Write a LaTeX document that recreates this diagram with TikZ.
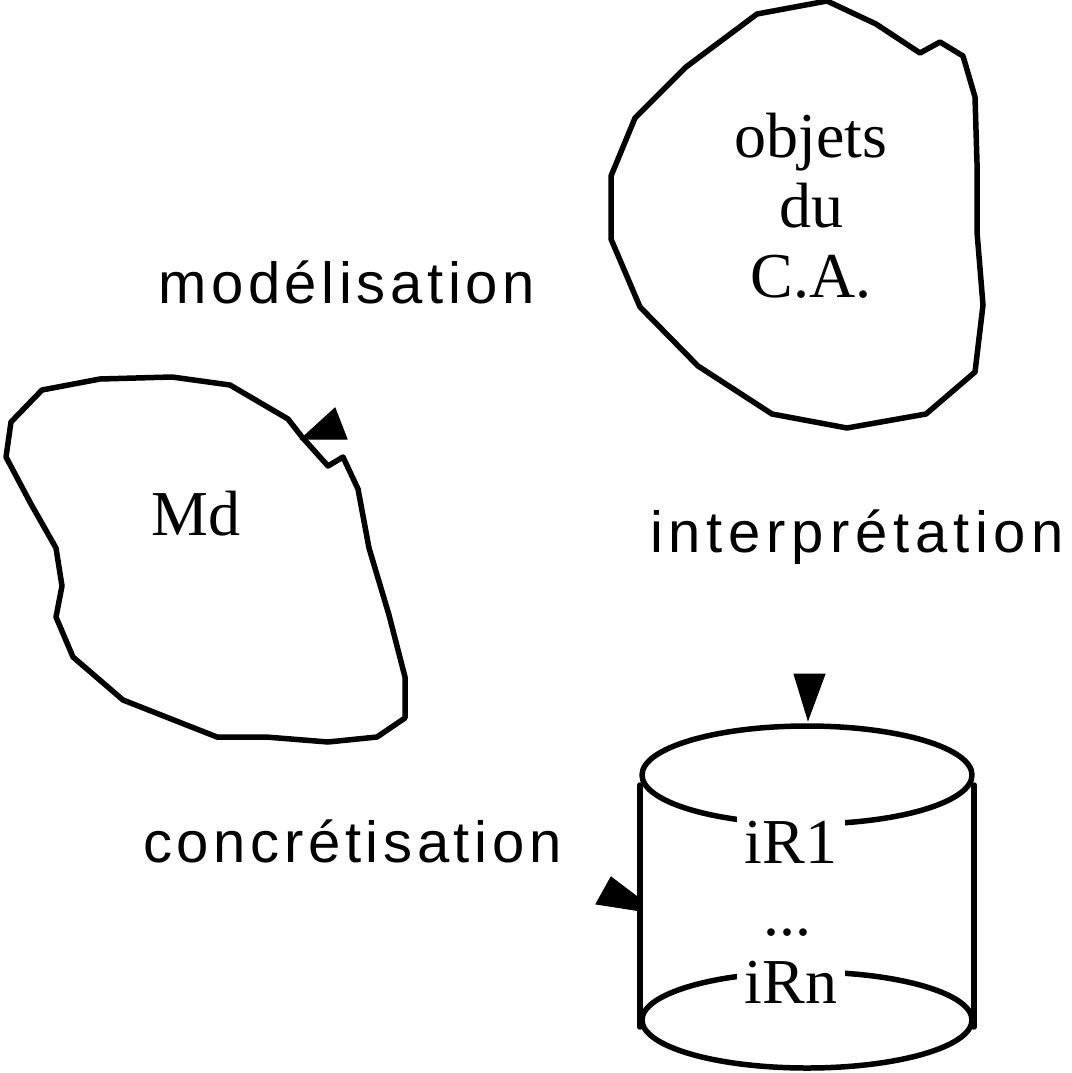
\documentclass[tikz,border=0pt]{standalone}
\usepackage{fontspec}
\setmainfont{Liberation Serif}
\newfontfamily\lblfont[LetterSpace=8]{Liberation Sans}
\newfontfamily\widelblfont[LetterSpace=10]{Liberation Sans}
\begin{document}
\begin{tikzpicture}[x=1pt,y=-1pt,
  outline/.style={line width=5.5pt,line join=round,line cap=round},
  head/.style={fill=black,draw=black,line width=1pt,line join=miter},
  serif/.style={font=\fontsize{64}{70}\selectfont,inner sep=0pt,align=center},
  boxed/.style={serif,fill=white,inner xsep=8pt,inner ysep=9pt},
  arrowlabel/.style={font=\lblfont\fontsize{58}{60}\selectfont,inner sep=0pt,anchor=base west}]
\useasboundingbox (0,0) rectangle (1071,1073);

% domain of the objects
\draw[outline] (757,14) -- (827,1) -- (876,24) -- (920,53) -- (940,42) -- (963,56)
  -- (975,97) -- (977,163) -- (977,232) -- (983,305) -- (975,372) -- (926,414)
  -- (847,428) -- (772,414) -- (698,366) -- (640,307) -- (611,239) -- (611,176)
  -- (635,118) -- (686,67) -- cycle;
\node[serif,anchor=base] (obj) at (811,297) {objets\\du\\C.A.};

% model
\draw[outline] (42,390) -- (100,379) -- (172,377) -- (230,385) -- (288,419)
  -- (302,437) -- (328,466) -- (343,457) -- (358,489) -- (369,548) -- (389,615)
  -- (405,677) -- (405,718) -- (377,737) -- (328,742) -- (266,737) -- (217,737)
  -- (123,700) -- (73,657) -- (56,617) -- (62,586) -- (56,548) -- (31,504)
  -- (6,457) -- (11,422) -- cycle;
\node[serif,anchor=base] (md) at (196,535) {Md};

% repository of instances
\draw[outline] (640,785) -- (640,1027);
\draw[outline] (974,785) -- (974,1027);
\draw[outline] (807,1020) ellipse [x radius=165, y radius=48];
\draw[outline] (807,775) ellipse [x radius=165, y radius=49];
\node[boxed,anchor=base] (ir1) at (791,863) {iR1};
\node[serif,anchor=base] (dots) at (787,935) {...};
\node[boxed,anchor=base] (irn) at (791,1003) {iRn};

% arrow labels
\node[arrowlabel] (mod) at (158,303) {modélisation};
\node[arrowlabel,font=\widelblfont\fontsize{58}{60}\selectfont] (interp) at (650,552) {interprétation};
\node[arrowlabel] (concr) at (143,862) {concrétisation};

% arrow heads
\fill[head] (301,439) -- (335,408) -- (347,439) -- cycle;
\fill[head] (794,674) -- (825,674) -- (808,720) -- cycle;
\fill[head] (611,877) -- (596,904) -- (641,911) -- (640,899) -- cycle;
\end{tikzpicture}
\end{document}
